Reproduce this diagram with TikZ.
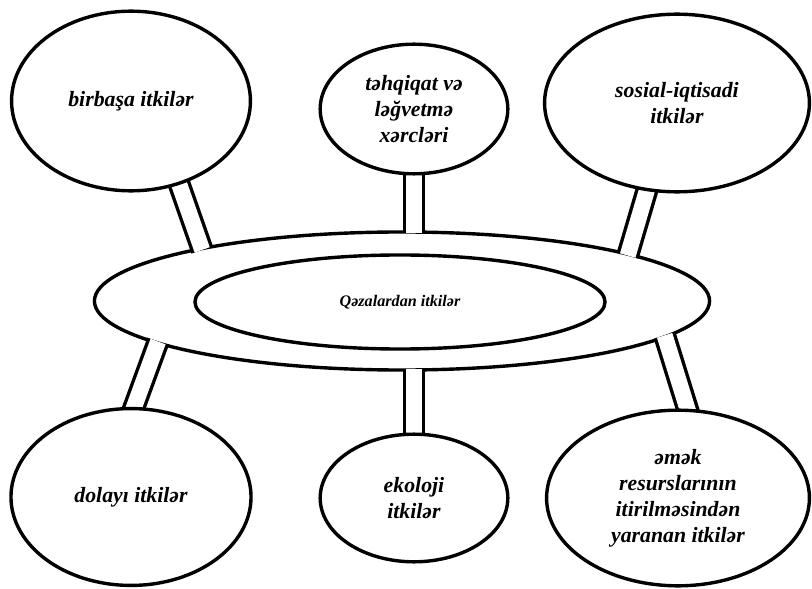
\documentclass[tikz,border=0pt]{standalone}
\usepackage{fontspec}
\setmainfont{Liberation Serif}
\usetikzlibrary{shapes.geometric,backgrounds}

\begin{document}
\begin{tikzpicture}[x=0.025cm, y=0.025cm,
        loss/.style={draw, ellipse, line width=0.085cm, fill=white, inner sep=0pt, align=center,
            font=\bfseries\itshape\fontsize{15.5}{18.5}\selectfont},
        post/.style={line width=0.085cm, double=white, double distance=0.4cm,
            shorten <=-0.3cm, shorten >=-0.07cm}]
        \useasboundingbox (0,0) rectangle (812,588);

        % Nodes
        \node (birbasa) [loss, minimum width=5.97cm, minimum height=4.49cm] at (131,487) {birbaşa itkilər};
        \node (tehqiqat) [loss, minimum width=4.69cm, minimum height=3.24cm] at (414,479) {təhqiqat və\\ləğvetmə\\xərcləri};
        \node (sosial) [loss, minimum width=6.62cm, minimum height=4.44cm] at (677,485) {sosial-iqtisadi\\itkilər};
        \node (dolayi) [loss, minimum width=6.0cm, minimum height=4.42cm] at (131,91) {dolayı itkilər};
        \node (ekoloji) [loss, minimum width=4.69cm, minimum height=3.19cm] at (414,90) {ekoloji\\itkilər};
        \node (emek) [loss, minimum width=6.57cm, minimum height=4.39cm] at (678,90) {əmək\\resurslarının\\itirilməsindən\\yaranan itkilər};
        \node (inner) [draw, ellipse, line width=0.085cm, minimum width=10.25cm, minimum height=2.35cm, inner sep=0pt,
            font=\bfseries\itshape\fontsize{11.5}{14}\selectfont] at (400,286) {Qəzalardan itkilər};

        % Posts
        \begin{scope}[on background layer]
            \node (outer) [draw, ellipse, line width=0.085cm, minimum width=15.375cm, minimum height=3.45cm] at (402,287) {};
            \draw [post] (birbasa.-60) -- (outer.165);
            \draw [post] (tehqiqat.south) -- (tehqiqat.south |- outer.north);
            \draw [post] (sosial.-109) -- (outer.12);
            \draw [post] (dolayi.88) -- (outer.190);
            \draw [post] (ekoloji.north) -- (ekoloji.north |- outer.south);
            \draw [post] (emek.84) -- (outer.-8);
        \end{scope}
    \end{tikzpicture}
\end{document}
